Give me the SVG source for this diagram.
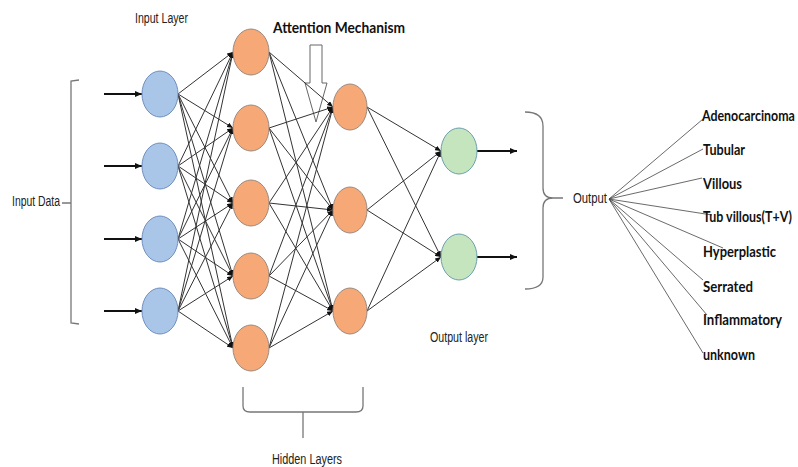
<svg xmlns="http://www.w3.org/2000/svg" width="798" height="467" viewBox="0 0 798 467">
<style>
.lbl{font-family:"Liberation Sans",Arial,sans-serif;font-size:14px;fill:#222}
.blbl{font-family:"Lato","Liberation Sans",Arial,sans-serif;font-weight:bold;font-size:15px;fill:#111}
.inn{fill:#a9c5e8;stroke:#6f8fbf;stroke-width:1}
.hid{fill:#f6a876;stroke:#9b8a80;stroke-width:1}
.out{fill:#c4e5bd;stroke:#6c9fae;stroke-width:1}
.c{stroke:#333;stroke-width:1;fill:none;marker-end:url(#ah)}
.ca{stroke:#111;stroke-width:1.8;fill:none;marker-end:url(#ahb)}
.fan{stroke:#444;stroke-width:0.8;fill:none}
.br{stroke:#777;stroke-width:1.3;fill:none}
</style>
<defs>
<marker id="ah" markerUnits="userSpaceOnUse" markerWidth="6" markerHeight="5" refX="6" refY="2.5" orient="auto"><path d="M0,0 L6,2.5 L0,5 z" fill="#111"/></marker>
<marker id="ahb" markerUnits="userSpaceOnUse" markerWidth="7" markerHeight="6" refX="7" refY="3" orient="auto"><path d="M0,0 L7,3 L0,6 z" fill="#111"/></marker>
</defs>
<rect width="798" height="467" fill="#fff"/>

<g id="attention">
<polygon points="310,45 322,45 322,83 327,83 316,122 305,83 310,83" fill="#fff" stroke="#666" stroke-width="1"/>
<text class="blbl" x="273" y="33" textLength="132" lengthAdjust="spacingAndGlyphs">Attention Mechanism</text>
</g>

<g id="braces">
<path class="br" d="M79,80 L71,81 L71,323 L79,324 M71,203 L62,203"/>
<path class="br" d="M525,112 Q543,112 543,126 L543,188 Q543,198 553,198 L563,198 M553,198 Q543,198 543,208 L543,277 Q543,289 525,289"/>
<path class="br" d="M243,387 L243,406 Q243,412 250,412 L356,412 Q363,412 363,406 L363,387 M303,412 L303,438"/>
</g>

<g id="connectors">
<path class="ca" d="M104,94 L142,94"/>
<path class="ca" d="M104,166 L142,166"/>
<path class="ca" d="M104,239 L142,239"/>
<path class="ca" d="M104,311 L142,311"/>

<path class="c" d="M178,94 L233,52"/><path class="c" d="M178,94 L233,128"/><path class="c" d="M178,94 L233,203"/><path class="c" d="M178,94 L233,276"/><path class="c" d="M178,94 L233,348"/>
<path class="c" d="M178,166 L233,52"/><path class="c" d="M178,166 L233,128"/><path class="c" d="M178,166 L233,203"/><path class="c" d="M178,166 L233,276"/><path class="c" d="M178,166 L233,348"/>
<path class="c" d="M178,239 L233,52"/><path class="c" d="M178,239 L233,128"/><path class="c" d="M178,239 L233,203"/><path class="c" d="M178,239 L233,276"/><path class="c" d="M178,239 L233,348"/>
<path class="c" d="M178,311 L233,52"/><path class="c" d="M178,311 L233,128"/><path class="c" d="M178,311 L233,203"/><path class="c" d="M178,311 L233,276"/><path class="c" d="M178,311 L233,348"/>

<path class="c" d="M269,52 L333,107"/><path class="c" d="M269,52 L333,210"/><path class="c" d="M269,52 L333,311"/>
<path class="c" d="M269,128 L333,107"/><path class="c" d="M269,128 L333,210"/><path class="c" d="M269,128 L333,311"/>
<path class="c" d="M269,203 L333,107"/><path class="c" d="M269,203 L333,210"/><path class="c" d="M269,203 L333,311"/>
<path class="c" d="M269,276 L333,107"/><path class="c" d="M269,276 L333,210"/><path class="c" d="M269,276 L333,311"/>
<path class="c" d="M269,348 L333,107"/><path class="c" d="M269,348 L333,210"/><path class="c" d="M269,348 L333,311"/>

<path class="c" d="M367,107 L441,151"/><path class="c" d="M367,107 L441,257"/>
<path class="c" d="M367,210 L441,151"/><path class="c" d="M367,210 L441,257"/>
<path class="c" d="M367,311 L441,151"/><path class="c" d="M367,311 L441,257"/>

<path class="ca" d="M477,151 L517,151"/>
<path class="ca" d="M477,257 L517,257"/>

<path class="fan" d="M609,199 L703,119"/>
<path class="fan" d="M609,199 L703,149"/>
<path class="fan" d="M609,199 L702,178"/>
<path class="fan" d="M609,199 L712,215"/>
<path class="fan" d="M609,199 L723,248"/>
<path class="fan" d="M609,199 L703,280"/>
<path class="fan" d="M609,199 L707,315"/>
<path class="fan" d="M609,199 L703,353"/>
</g>

<g id="input-layer">
<ellipse id="in1" class="inn" cx="160" cy="94" rx="18" ry="23"/>
<ellipse id="in2" class="inn" cx="160" cy="166" rx="18" ry="23"/>
<ellipse id="in3" class="inn" cx="160" cy="239" rx="18" ry="23"/>
<ellipse id="in4" class="inn" cx="160" cy="311" rx="18" ry="23"/>
</g>
<g id="hidden-layer-1">
<ellipse id="h1a" class="hid" cx="251" cy="52" rx="18" ry="23"/>
<ellipse id="h1b" class="hid" cx="251" cy="128" rx="18" ry="23"/>
<ellipse id="h1c" class="hid" cx="251" cy="203" rx="18" ry="23"/>
<ellipse id="h1d" class="hid" cx="251" cy="276" rx="18" ry="23"/>
<ellipse id="h1e" class="hid" cx="251" cy="348" rx="18" ry="23"/>
</g>
<g id="hidden-layer-2">
<ellipse id="h2a" class="hid" cx="350" cy="107" rx="17" ry="23"/>
<ellipse id="h2b" class="hid" cx="350" cy="210" rx="17" ry="23"/>
<ellipse id="h2c" class="hid" cx="350" cy="311" rx="17" ry="23"/>
</g>
<g id="output-layer">
<ellipse id="o1" class="out" cx="459" cy="151" rx="18" ry="23"/>
<ellipse id="o2" class="out" cx="459" cy="257" rx="18" ry="23"/>
</g>

<g id="labels">
<text class="lbl" x="135" y="23" textLength="53" lengthAdjust="spacingAndGlyphs">Input Layer</text>
<text class="lbl" x="12" y="206" textLength="48" lengthAdjust="spacingAndGlyphs">Input Data</text>
<text class="lbl" x="430" y="342" textLength="58" lengthAdjust="spacingAndGlyphs">Output layer</text>
<text class="lbl" x="272" y="464" textLength="70" lengthAdjust="spacingAndGlyphs">Hidden Layers</text>
<text class="lbl" x="573" y="203" font-size="13" textLength="34" lengthAdjust="spacingAndGlyphs">Output</text>
</g>

<g id="classes">
<text class="blbl" transform="translate(702,121) scale(0.8,1)" x="0" y="0" textLength="116" lengthAdjust="spacingAndGlyphs">Adenocarcinoma</text>
<text class="blbl" x="703" y="155" textLength="42" lengthAdjust="spacingAndGlyphs">Tubular</text>
<text class="blbl" x="703" y="189" textLength="39" lengthAdjust="spacingAndGlyphs">Villous</text>
<text class="blbl" transform="translate(703,222) scale(0.8,1)" x="0" y="0" textLength="111" lengthAdjust="spacingAndGlyphs">Tub villous(T+V)</text>
<text class="blbl" x="703" y="257" textLength="73" lengthAdjust="spacingAndGlyphs">Hyperplastic</text>
<text class="blbl" x="703" y="292" textLength="50" lengthAdjust="spacingAndGlyphs">Serrated</text>
<text class="blbl" x="703" y="325" textLength="79" lengthAdjust="spacingAndGlyphs">Inflammatory</text>
<text class="blbl" x="703" y="360" textLength="52" lengthAdjust="spacingAndGlyphs">unknown</text>
</g>
</svg>
